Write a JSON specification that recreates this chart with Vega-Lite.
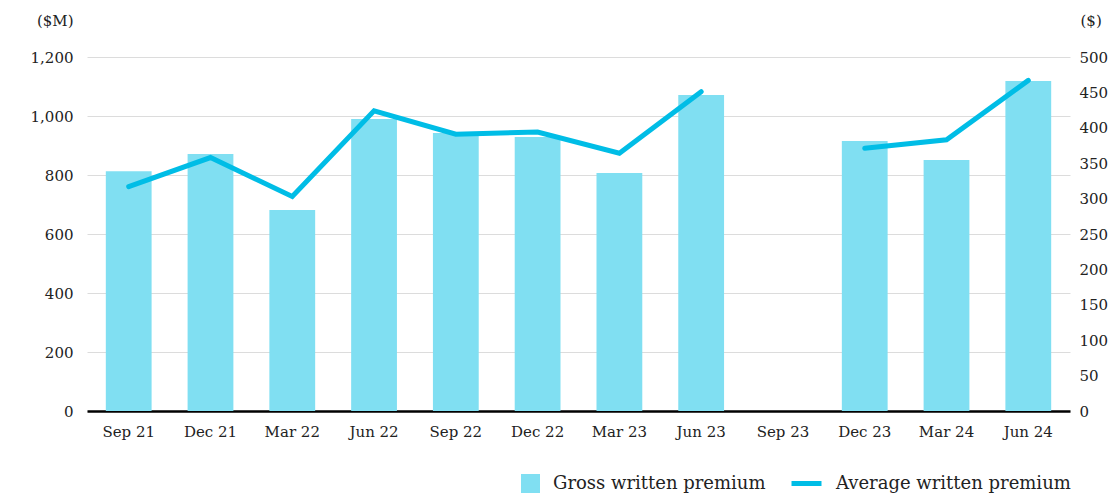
{
  "$schema": "https://vega.github.io/schema/vega-lite/v6.json",
  "autosize": {"type": "none"},
  "padding": {"left": 87, "top": 57, "right": 46, "bottom": 89},
  "width": 983,
  "height": 354,
  "config": {
    "font": "DejaVu Serif",
    "view": {"stroke": null},
    "axis": {"labelFont": "DejaVu Serif", "labelFontSize": 15, "labelColor": "#222", "titleFont": "DejaVu Serif", "titleColor": "#222"},
    "legend": {"labelFont": "DejaVu Serif", "labelFontSize": 18, "labelColor": "#222", "labelLimit": 0}
  },
  "data": {
    "values": [
      {"quarter": "Sep 21", "gwp": 813, "awp": 317},
      {"quarter": "Dec 21", "gwp": 871, "awp": 358},
      {"quarter": "Mar 22", "gwp": 681, "awp": 303},
      {"quarter": "Jun 22", "gwp": 990, "awp": 424},
      {"quarter": "Sep 22", "gwp": 942, "awp": 391},
      {"quarter": "Dec 22", "gwp": 929, "awp": 394},
      {"quarter": "Mar 23", "gwp": 807, "awp": 364},
      {"quarter": "Jun 23", "gwp": 1071, "awp": 451},
      {"quarter": "Sep 23", "gwp": null, "awp": null},
      {"quarter": "Dec 23", "gwp": 915, "awp": 371},
      {"quarter": "Mar 24", "gwp": 851, "awp": 383},
      {"quarter": "Jun 24", "gwp": 1119, "awp": 467}
    ]
  },
  "encoding": {
    "x": {
      "field": "quarter", "type": "nominal", "sort": null, "title": null,
      "scale": {"domain": ["Sep 21", "Dec 21", "Mar 22", "Jun 22", "Sep 22", "Dec 22", "Mar 23", "Jun 23", "Sep 23", "Dec 23", "Mar 24", "Jun 24"], "paddingInner": 0.44, "paddingOuter": 0.23},
      "axis": {"labelAngle": 0, "ticks": false, "domain": true, "domainColor": "#000", "domainWidth": 2.5, "labelPadding": 13, "grid": false}
    }
  },
  "layer": [
    {
      "mark": {"type": "bar"},
      "encoding": {
        "y": {
          "field": "gwp", "type": "quantitative", "scale": {"domain": [0, 1200]},
          "axis": {"title": "($M)", "titleAngle": 0, "titleAlign": "right", "titleBaseline": "middle", "titleX": -14, "titleY": -37, "titleFontSize": 15, "titleFontWeight": "normal", "values": [0, 200, 400, 600, 800, 1000, 1200], "format": ",.0f", "ticks": false, "domain": false, "labelPadding": 14, "grid": true, "gridColor": "#dcdcdc", "orient": "left"}
        },
        "fill": {
          "datum": "Gross written premium",
          "scale": {"range": ["#80DFF2"]},
          "legend": {"title": null, "orient": "none", "legendX": 433, "legendY": 416, "symbolType": "square", "symbolSize": 361, "symbolOpacity": 1, "labelOffset": 12}
        }
      }
    },
    {
      "mark": {"type": "line", "strokeWidth": 5, "strokeCap": "round", "strokeJoin": "miter", "invalid": "break-paths-show-domains"},
      "encoding": {
        "y": {
          "field": "awp", "type": "quantitative", "scale": {"domain": [0, 500]},
          "axis": {"title": "($)", "titleAngle": 0, "titleAlign": "left", "titleBaseline": "middle", "titleX": 10, "titleY": -37, "titleFontSize": 15, "titleFontWeight": "normal", "values": [0, 50, 100, 150, 200, 250, 300, 350, 400, 450, 500], "ticks": false, "domain": false, "labelPadding": 9, "grid": false, "orient": "right"}
        },
        "stroke": {
          "datum": "Average written premium",
          "scale": {"range": ["#00BDE6"]},
          "legend": {"title": null, "orient": "none", "legendX": 702, "legendY": 409, "symbolType": "stroke", "symbolSize": 900, "symbolStrokeWidth": 5, "labelOffset": 12}
        }
      }
    }
  ],
  "resolve": {"scale": {"y": "independent", "fill": "independent", "stroke": "independent"}}
}
